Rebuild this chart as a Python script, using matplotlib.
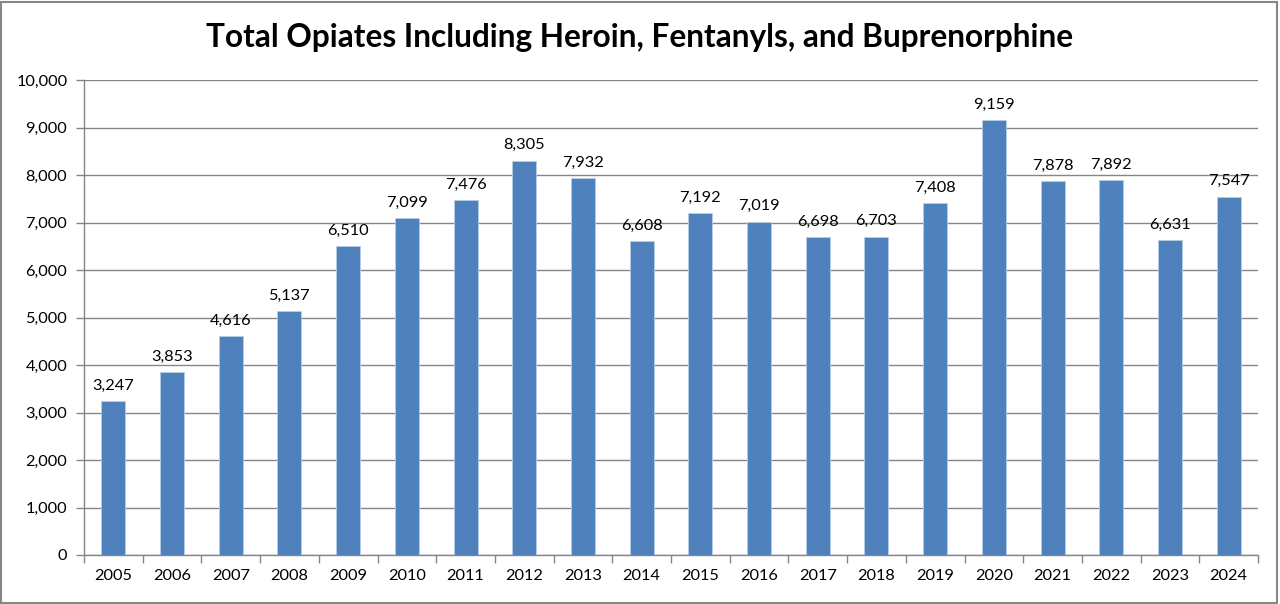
import matplotlib
matplotlib.use("Agg")
import matplotlib.pyplot as plt
from matplotlib.patches import Rectangle
from matplotlib.ticker import FuncFormatter, FixedLocator
import numpy as np

years = [str(y) for y in range(2005, 2025)]
values = [3247, 3853, 4616, 5137, 6510, 7099, 7476, 8305, 7932, 6608,
          7192, 7019, 6698, 6703, 7408, 9159, 7878, 7892, 6631, 7547]
title = "Total Opiates Including Heroin, Fentanyls, and Buprenorphine"

plt.rcParams['font.family'] = ['Lato', 'DejaVu Sans']

fig = plt.figure(figsize=(12.8, 6.04), dpi=100)
ax = fig.add_axes([84/1280, 1-555/604, (1258-84)/1280, (555-80)/604])

x = np.arange(len(years))
ax.bar(x, values, width=0.41, color='#4F81BD', edgecolor='#B9CDE5', linewidth=0.6, zorder=3)
for xi, v in zip(x, values):
    ax.annotate(f"{v:,}", (xi, v), xytext=(0, 6), textcoords='offset points',
                ha='center', va='bottom', fontsize=11.8, color='#000000')

ax.set_xlim(-0.5, len(years) - 0.5)
ax.set_ylim(0, 10000)
ax.set_yticks(np.arange(0, 10001, 1000))
ax.yaxis.set_major_formatter(FuncFormatter(lambda v, p: f"{int(v):,}"))
ax.grid(axis='y', color='#868686', linewidth=1, zorder=0)

ax.set_xticks(x)
ax.set_xticklabels(years)
ax.xaxis.set_minor_locator(FixedLocator(np.arange(-0.5, len(years), 1.0)))
ax.tick_params(axis='x', which='major', length=0, pad=10, labelsize=11.8)
ax.tick_params(axis='x', which='minor', length=6, color='#868686', width=1)
ax.tick_params(axis='y', length=6, color='#868686', width=1, pad=6, labelsize=11.8)

for s in ['top', 'right']:
    ax.spines[s].set_visible(False)
for s in ['left', 'bottom']:
    ax.spines[s].set_color('#868686')
    ax.spines[s].set_linewidth(1)

fig.text(640/1280, 1-37/604, title, ha='center', va='center',
         fontsize=22.8, fontweight='bold', color='#000000')

fig.patches.append(Rectangle((0.001, 0.001), 0.997, 0.996, transform=fig.transFigure,
                             fill=False, edgecolor='#868686', linewidth=1.5))

fig.savefig("out.png", dpi=100)
